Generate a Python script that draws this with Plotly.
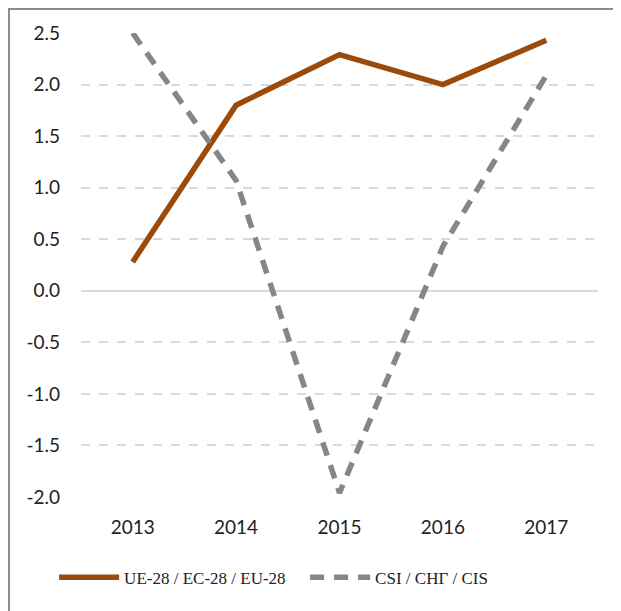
import plotly.graph_objects as go

years = ["2013", "2014", "2015", "2016", "2017"]
eu_values = [0.28, 1.80, 2.29, 2.00, 2.43]
cis_values = [2.50, 1.07, -1.96, 0.43, 2.09]
eu_name = "UE-28 / EC-28 / EU-28"
cis_name = "CSI / СНГ / CIS"
y_ticks = [2.5, 2.0, 1.5, 1.0, 0.5, 0.0, -0.5, -1.0, -1.5, -2.0]

PW, PH = 517, 464  # plot area size in px

fig = go.Figure()
fig.add_trace(go.Scatter(x=years, y=eu_values, name=eu_name, mode="lines",
                         line=dict(color="#9C4A0A", width=5.5)))
fig.add_trace(go.Scatter(x=years, y=cis_values, name=cis_name, mode="lines",
                         line=dict(color="#868686", width=5.5, dash="14px,10px")))

fig.update_layout(
    width=613, height=603,
    margin=dict(l=73, r=23, t=25, b=114),
    paper_bgcolor="white", plot_bgcolor="white",
    showlegend=True,
    legend=dict(orientation="h", x=-0.052, xanchor="left", y=-0.135, yanchor="top",
                font=dict(family="Liberation Serif", size=17, color="#222"),
                itemwidth=60, tracegroupgap=0, entrywidth=176, entrywidthmode="pixels"),
    font=dict(family="Lato", size=18, color="#222"),
    shapes=[dict(type="line", xref="paper", yref="paper",
                 x0=-72/PW, x1=-72/PW, y0=-120/PH, y1=1 + 25/PH,
                 line=dict(color="#8c8c8c", width=2)),
            dict(type="line", xref="paper", yref="paper",
                 x0=-73/PW, x1=1 + 23/PW, y0=1 + 24/PH, y1=1 + 24/PH,
                 line=dict(color="#8c8c8c", width=2))],
)
fig.update_xaxes(type="category", range=[-0.5, 4.5], showgrid=False, showline=False,
                 ticks="", ticklabelstandoff=17,
                 tickfont=dict(family="Lato", size=19, color="#222"))
fig.update_yaxes(range=[-2.0, 2.5], tickvals=y_ticks,
                 ticktext=[f"{v:.1f}" for v in y_ticks],
                 showgrid=True, gridcolor="#d9d9d9", gridwidth=1.5, griddash="dash",
                 zeroline=True, zerolinecolor="#d9d9d9", zerolinewidth=1.5,
                 showline=False, ticks="", ticklabelstandoff=20,
                 tickfont=dict(family="Lato", size=19, color="#222"))

fig.write_html("out.html")
